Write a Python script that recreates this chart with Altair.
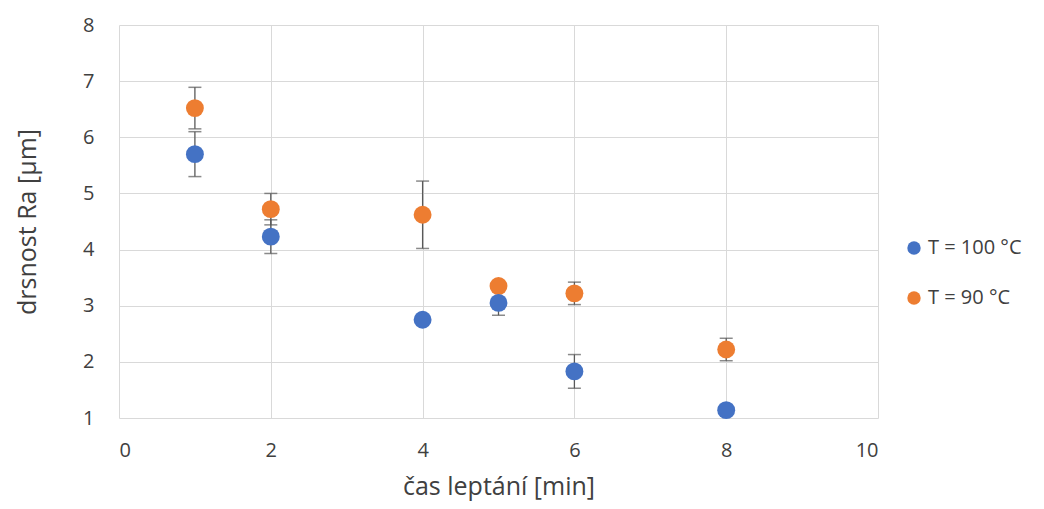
import altair as alt
import pandas as pd

time_min = [1, 2, 4, 5, 6, 8]
ra_100 = [5.70, 4.23, 2.75, 3.05, 1.83, 1.14]
err_100 = [0.40, 0.30, 0.0, 0.22, 0.30, 0.0]
ra_90 = [6.52, 4.72, 4.62, 3.35, 3.22, 2.22]
err_90 = [0.37, 0.28, 0.60, 0.0, 0.20, 0.20]
series = ["T = 100 °C", "T = 90 °C"]
colors = ["#4472C4", "#ED7D31"]

rows = []
for x, y, e in zip(time_min, ra_100, err_100):
    rows.append({"t": x, "ra": y, "lo": y - e, "hi": y + e, "err": e, "s": series[0], "ord": 1})
for x, y, e in zip(time_min, ra_90, err_90):
    rows.append({"t": x, "ra": y, "lo": y - e, "hi": y + e, "err": e, "s": series[1], "ord": 0})
df = pd.DataFrame(rows)

FONT = "Open Sans"
xs = alt.Scale(domain=[0, 10], nice=False)
ys = alt.Scale(domain=[1, 8], nice=False)

x_axis = alt.Axis(values=[0, 2, 4, 6, 8, 10], title="čas leptání [min]",
                  grid=True, domain=False, ticks=False, labelPadding=22,
                  titleY=68, titleBaseline="middle", format="d")
y_axis = alt.Axis(values=[1, 2, 3, 4, 5, 6, 7, 8], title="drsnost Ra [µm]",
                  grid=True, domain=False, ticks=False, labelPadding=25,
                  titleX=-92, titleBaseline="middle", format="d")

err_df = df[df["err"] > 0]
base_err = alt.Chart(err_df)
rules = base_err.mark_rule(color="#595959", strokeWidth=1.3).encode(
    x=alt.X("t:Q", scale=xs, axis=x_axis), y=alt.Y("lo:Q", scale=ys, axis=y_axis), y2="hi:Q")
cap_lo = base_err.mark_tick(color="#595959", size=13, thickness=1.5, orient="horizontal").encode(
    x=alt.X("t:Q", scale=xs, axis=x_axis), y=alt.Y("lo:Q", scale=ys, axis=y_axis))
cap_hi = base_err.mark_tick(color="#595959", size=13, thickness=1.5, orient="horizontal").encode(
    x=alt.X("t:Q", scale=xs, axis=x_axis), y=alt.Y("hi:Q", scale=ys, axis=y_axis))

points = alt.Chart(df).mark_circle(size=320, opacity=1).encode(
    x=alt.X("t:Q", scale=xs, axis=x_axis), y=alt.Y("ra:Q", scale=ys, axis=y_axis),
    color=alt.Color("s:N", scale=alt.Scale(domain=series, range=colors),
                    legend=alt.Legend(title=None, orient="none", legendX=785, legendY=213,
                                      symbolType="circle", symbolSize=180,
                                      labelFontSize=20, labelFont=FONT, labelColor="#404040",
                                      rowPadding=30, labelOffset=4)),
    order=alt.Order("ord:Q"))

chart = alt.layer(rules, cap_lo, cap_hi, points).properties(
    width=759, height=393,
    background="white",
    autosize=alt.AutoSizeParams(type="none"),
    padding={"left": 111, "top": 17, "right": 150, "bottom": 83},
).configure_axis(
    labelFont=FONT, labelFontSize=20, labelColor="#404040",
    titleFont=FONT, titleFontSize=25, titleColor="#404040", titleFontWeight="normal",
    gridColor="#D9D9D9", gridWidth=1,
).configure_view(stroke=None)

chart.save("out.html", embed_options={"renderer": "svg", "actions": False})
